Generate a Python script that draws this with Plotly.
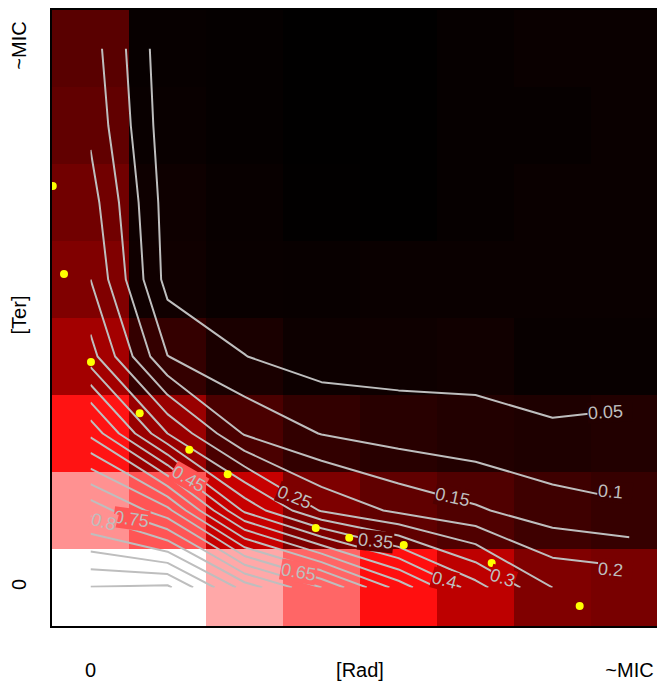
import plotly.graph_objects as go

# grid coordinates (cell centres), x = [Rad], y = [Ter]
x_idx = [0, 1, 2, 3, 4, 5, 6, 7]
y_idx = [0, 1, 2, 3, 4, 5, 6, 7]

# response values, one list per row (row 0 = bottom, Ter = 0)
row0 = [1.002, 1.010, 0.830, 0.700, 0.530, 0.370, 0.250, 0.235]
row1 = [0.784, 0.666, 0.390, 0.245, 0.189, 0.157, 0.121, 0.105]
row2 = [0.538, 0.300, 0.145, 0.098, 0.078, 0.067, 0.059, 0.066]
row3 = [0.320, 0.101, 0.051, 0.026, 0.028, 0.033, 0.015, 0.015]
row4 = [0.250, 0.032, 0.018, 0.015, 0.020, 0.020, 0.020, 0.020]
row5 = [0.2225, 0.0265, 0.016, 0.004, 0.002, 0.012, 0.020, 0.020]
row6 = [0.1895, 0.0185, 0.010, 0.002, 0.002, 0.012, 0.012, 0.020]
row7 = [0.174, 0.013, 0.010, 0.002, 0.001, 0.012, 0.020, 0.020]
z_rows = [row0, row1, row2, row3, row4, row5, row6, row7]

# observed points (yellow)
pts_x = [-0.49, -0.344, 0.006, 0.639, 1.283, 1.782, 2.925, 3.360, 4.068, 5.210, 6.353]
pts_y = [5.214, 4.071, 2.929, 2.262, 1.790, 1.470, 0.773, 0.645, 0.552, 0.318, -0.240]

# contour labels shown (level text) and where they sit on their line
label_text = ["0.05", "0.1", "0.15", "0.2", "0.25", "0.3", "0.35", "0.4", "0.45", "0.65", "0.75", "0.8"]
label_x = [6.747, 6.812, 4.695, 6.812, 2.643, 5.357, 3.695, 4.591, 1.279, 2.695, 0.526, 0.175]
label_y = [2.283, 1.244, 1.175, 0.227, 1.175, 0.123, 0.600, 0.097, 1.409, 0.201, 0.890, 0.851]
label_angle = [-3, 5, 12, 5, 22, 18, 6, 15, 30, 10, 8, 15]
# labels at the end of a line hide the rest of that line (box width in px)
label_box = [44, 34, None, 34, None, None, None, None, None, None, None, None]

# tick labels
x_tickvals = [0, 3.5, 7]
x_ticktext = ["0", "[Rad]", "~MIC"]
y_tickvals = [0, 3.5, 7]
y_ticktext = ["0", "[Ter]", "~MIC"]

FONT = "Liberation Sans, Arial, Helvetica, sans-serif"
GREY = "#bebebe"


def ramp(v):
    """black -> red -> white, v in [0, 1]"""
    v = max(0.0, min(1.0, v))
    if v <= 0.5:
        return "rgb(%d,0,0)" % round(510 * v)
    g = round(510 * (v - 0.5))
    return "rgb(255,%d,%d)" % (g, g)


fig = go.Figure()
fig.add_trace(go.Heatmap(
    x=x_idx, y=y_idx, z=z_rows,
    zmin=0, zmax=1,
    colorscale=[[0, "#000000"], [0.5, "#ff0000"], [1, "#ffffff"]],
    showscale=False, zsmooth=False, hoverinfo="skip",
))
fig.add_trace(go.Contour(
    x=x_idx, y=y_idx, z=z_rows,
    autocontour=False,
    contours=dict(start=0.05, end=1.0, size=0.05, coloring="none",
                  showlabels=False),
    line=dict(color=GREY, width=2, smoothing=0),
    showscale=False, hoverinfo="skip",
))
fig.add_trace(go.Scatter(
    x=pts_x, y=pts_y, mode="markers",
    marker=dict(color="#ffff00", size=8, line=dict(width=0)),
    hoverinfo="skip",
))

# contour labels, with a background matching the cell beneath (gap in the line)
for t, lx, ly, ang, bw in zip(label_text, label_x, label_y, label_angle, label_box):
    ci = min(7, max(0, int(round(lx))))
    cj = min(7, max(0, int(round(ly))))
    kw = {}
    if bw is not None:
        kw = dict(width=bw, align="left")
    fig.add_annotation(
        x=lx, y=ly, xref="x", yref="y", text=t, showarrow=False,
        textangle=ang, font=dict(family=FONT, size=18, color=GREY),
        bgcolor=ramp(z_rows[cj][ci]), borderpad=0, **kw,
    )

# the page body has an 8 px margin, so the figure is sized to fill the window
fig.update_layout(
    width=657, height=679,
    margin=dict(l=44, r=0, t=2, b=61, autoexpand=False),
    paper_bgcolor="white", plot_bgcolor="white",
    showlegend=False,
    font=dict(family=FONT, size=20, color="black"),
)
fig.update_xaxes(
    range=[-0.5, 7.461], showgrid=False, zeroline=False, automargin=False,
    showline=True, linewidth=2, linecolor="black", mirror=True,
    tickvals=x_tickvals, ticktext=x_ticktext, ticks="",
    ticklabelstandoff=25,
    tickfont=dict(family=FONT, size=20, color="black"),
)
fig.update_yaxes(
    range=[-0.5, 7.5], showgrid=False, zeroline=False, automargin=False,
    showline=True, linewidth=2, linecolor="black", mirror=False,
    tickvals=y_tickvals, ticktext=y_ticktext, ticks="",
    tickangle=-90, ticklabelstandoff=16,
    tickfont=dict(family=FONT, size=20, color="black"),
)

fig.write_html("out.html")
